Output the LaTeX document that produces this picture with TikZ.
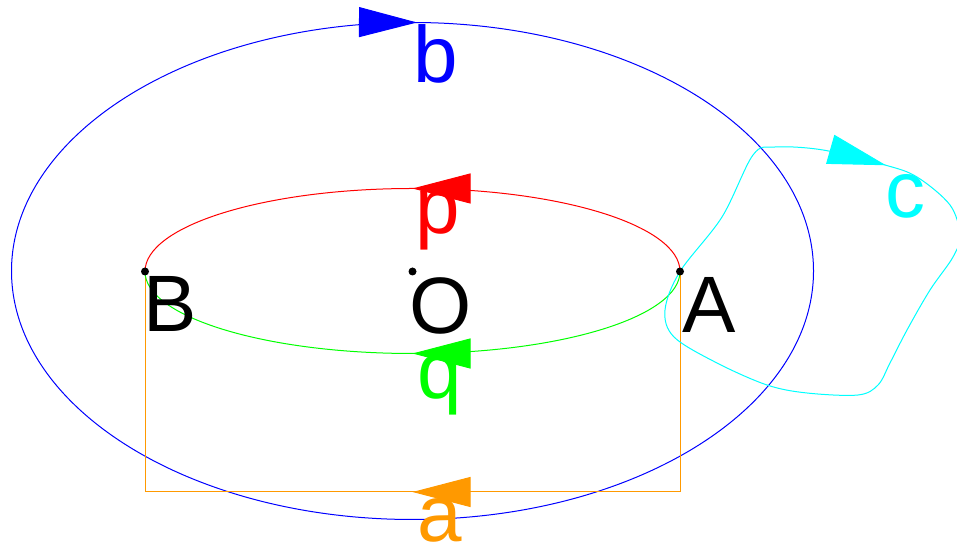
\documentclass[tikz,border=0pt]{standalone}
\usepackage{fontspec}
\setmainfont{Liberation Sans}
\usetikzlibrary{arrows.meta,decorations.markings}
\definecolor{pblue}{RGB}{0,0,255}
\definecolor{pred}{RGB}{255,0,0}
\definecolor{pgreen}{RGB}{0,255,0}
\definecolor{porange}{RGB}{255,153,0}
\definecolor{pcyan}{RGB}{0,255,255}
\tikzset{
  curve/.style={line width=1pt},
  bigtip/.style={decoration={markings, mark=#1}, postaction={decorate}},
  lbl/.style={anchor=base west, inner sep=0pt, font=\fontsize{80}{96}\selectfont},
  dot/.style={circle, fill=black, inner sep=0pt, minimum size=8pt},
}
\newcommand{\Tip}{\arrow{Triangle[length=58pt,width=30pt]}}
\begin{document}
\begin{tikzpicture}[x=1pt,y=1pt]
\useasboundingbox[fill=white] (0,0) rectangle (957,548);
\coordinate (A) at (680,276.5);
\coordinate (B) at (145,276.5);
\coordinate (C) at (412.5,276.5);
\coordinate (Aq) at (680,56);
\coordinate (Bq) at (145,56);
% blue ellipse
\draw[curve, pblue, bigtip={at position 521.7pt with {\Tip}}]
  (11.5,277) arc[start angle=180, end angle=-180, x radius=401, y radius=248.5];
% orange path
\draw[curve, porange, bigtip={at position 0.5 with {\Tip}}]
  (A) -- (Aq) -- (Bq) -- (B);
% red upper arc
\draw[curve, pred, bigtip={at position 0.5 with {\Tip}}]
  (A) arc[start angle=0, end angle=180, x radius=267.5, y radius=83];
% green lower arc
\draw[curve, pgreen, bigtip={at position 0.5 with {\Tip}}]
  (A) arc[start angle=0, end angle=-180, x radius=267.5, y radius=82];
% cyan loop
\draw[curve, pcyan, bigtip={at position 1pt with {\Tip}}]
  plot[smooth cycle, tension=0.55] coordinates {
   (823,398) (885,383) (917,371) (950,343) (960,313) (953,291) (930,258)
   (907,218) (890,185) (878,163) (858,153) (807,155) (767,163) (717,185)
   (674,211) (665,238) (680,276.5) (722,331) (753,393) (775,401)};
% dots
\node[dot] (dA) at (A) {};
\node[dot] (dB) at (B) {};
\node[dot] (dO) at (C) {};
% labels
\node[lbl, pblue] (lb) at (413,465) {b};
\node[lbl, pred] (lp) at (415,314) {p};
\node[lbl] (lO) at (409,214) {O};
\node[lbl, pgreen] (lq) at (417,149) {q};
\node[lbl, porange] (la) at (417,6) {a};
\node[lbl, pcyan] (lc) at (885,330) {c};
\node[lbl] (lA) at (682,215) {A};
\node[lbl] (lB) at (143,216) {B};
\end{tikzpicture}
\end{document}
